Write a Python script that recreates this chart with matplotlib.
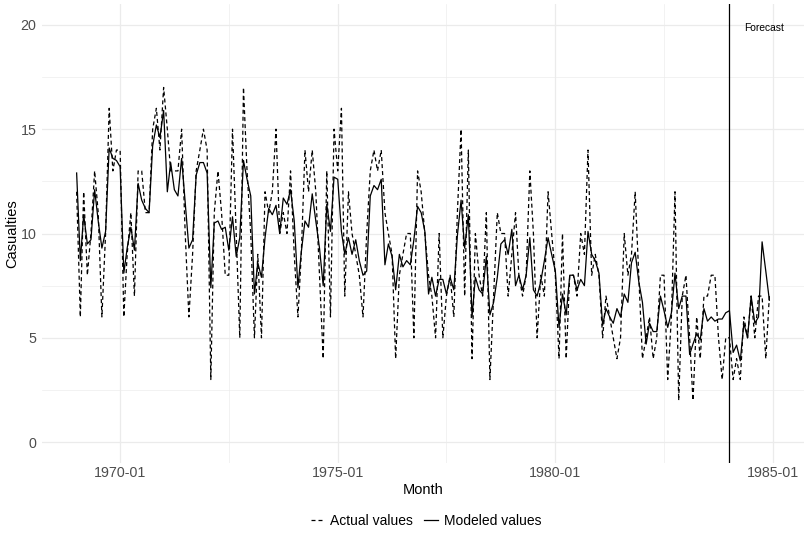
import matplotlib
matplotlib.use("Agg")
import matplotlib.pyplot as plt
import matplotlib.dates as mdates
import pandas as pd

# monthly series, Jan 1969 - Dec 1984
months = pd.date_range("1969-01-01", periods=192, freq="MS")

actual = [
    12, 6, 12, 8, 10, 13, 11, 6, 10, 16, 13, 14,
    14, 6, 9, 11, 7, 13, 13, 11, 11, 15, 16, 14,
    17, 15, 13, 13, 13, 15, 10, 6, 9, 13, 14, 15,
    14, 3, 11, 13, 11, 8, 8, 15, 10, 5, 17, 13,
    10, 5, 9, 5, 12, 11, 12, 15, 10, 11, 10, 13,
    9, 6, 9, 14, 12, 14, 12, 8, 4, 13, 6, 15,
    13, 16, 7, 12, 10, 9, 8, 6, 10, 13, 14, 13,
    14, 11, 10, 9, 4, 8, 9, 10, 10, 5, 13, 12,
    10, 8, 7, 5, 10, 5, 7, 8, 6, 11, 15, 7,
    14, 4, 10, 8, 7, 11, 3, 7, 11, 10, 10, 7,
    9, 11, 8, 7, 8, 13, 10, 5, 8, 7, 12, 10,
    8, 4, 10, 4, 8, 8, 7, 10, 9, 14, 8, 9,
    8, 5, 7, 6, 5, 4, 5, 10, 8, 9, 12, 8,
    4, 5, 6, 4, 5, 8, 8, 3, 6, 12, 2, 7,
    8, 5, 2, 6, 4, 7, 7, 8, 8, 5, 3, 5,
    5, 3, 4, 3, 6, 5, 7, 5, 7, 7, 4, 7,
]

modeled = [
    12.9, 8.7, 10.9, 9.5, 9.7, 12.1, 10.6, 9.3, 10.1, 14.1, 13.6, 13.5,
    13.2, 8.1, 9.3, 10.3, 9.2, 12.4, 11.6, 11.2, 11.0, 14.2, 15.2, 14.6,
    15.9, 12.0, 13.4, 12.1, 11.8, 13.6, 11.5, 9.3, 9.7, 12.8, 13.4, 13.4,
    12.9, 7.4, 10.5, 10.6, 10.2, 10.3, 9.2, 10.8, 8.9, 9.8, 13.5, 12.6,
    11.8, 7.1, 8.6, 7.9, 9.8, 11.2, 10.9, 11.35, 10.0, 11.7, 11.4, 12.1,
    10.6, 7.4, 9.1, 10.6, 10.3, 11.9, 10.6, 9.3, 7.5, 11.4, 10.1, 12.7,
    12.6, 10.1, 9.0, 9.8, 9.0, 9.7, 8.7, 8.0, 8.2, 11.8, 12.3, 12.1,
    12.6, 8.5, 9.5, 8.9, 7.3, 9.0, 8.4, 8.7, 8.5, 9.7, 11.3, 11.0,
    10.1, 7.1, 7.9, 7.0, 7.8, 7.8, 7.1, 7.9, 7.3, 9.9, 11.6, 9.3,
    10.9, 6.0, 7.9, 7.3, 7.1, 8.9, 6.1, 6.7, 7.9, 9.5, 9.7, 9.0,
    10.2, 7.5, 8.0, 7.3, 8.0, 9.8, 7.3, 7.0, 7.7, 8.7, 9.8, 9.0,
    8.2, 5.5, 7.1, 6.1, 8.0, 8.0, 7.3, 7.8, 7.5, 10.1, 9.0, 8.7,
    8.1, 5.6, 6.4, 6.0, 5.7, 6.4, 6.0, 7.1, 6.7, 8.6, 9.1, 7.7,
    6.7, 4.7, 5.7, 5.3, 5.3, 7.0, 6.3, 5.5, 6.2, 8.1, 6.4, 7.0,
    7.0, 4.2, 4.7, 5.2, 4.9, 6.4, 5.8, 6.0, 5.8, 5.9, 5.9, 6.2,
    6.3, 4.3, 4.65, 3.9, 5.7, 5.0, 7.0, 5.7, 6.0, 9.6, 8.2, 6.8,
]

forecast_start = pd.Timestamp("1984-01-01")
forecast_label_at = pd.Timestamp("1984-10-20")
x_major = pd.to_datetime(["1970-01-01", "1975-01-01", "1980-01-01", "1985-01-01"])
x_minor = pd.to_datetime(["1972-07-01", "1977-07-01", "1982-07-01"])
y_major = [0, 5, 10, 15, 20]
y_minor = [2.5, 7.5, 12.5, 17.5]

plt.rcParams['font.family'] = ['Liberation Sans', 'DejaVu Sans']

fig = plt.figure(figsize=(8.08, 5.39), dpi=100)
ax = fig.add_axes([42 / 808, 76 / 539, 762 / 808, 459 / 539])

grid_col = '#EBEBEB'
for yv in y_minor:
    ax.axhline(yv, color=grid_col, lw=0.45, zorder=0)
for yv in y_major:
    ax.axhline(yv, color=grid_col, lw=0.9, zorder=0)
for xv in x_minor:
    ax.axvline(xv, color=grid_col, lw=0.45, zorder=0)
for xv in x_major:
    ax.axvline(xv, color=grid_col, lw=0.9, zorder=0)

ax.plot(months, actual, color='black', lw=0.9, linestyle=(0, (3.2, 2.4)),
        label='Actual values')
ax.plot(months, modeled, color='black', lw=0.9, label='Modeled values')
ax.axvline(forecast_start, color='black', lw=0.9)
ax.text(forecast_label_at, 19.85, 'Forecast', fontsize=7.4, ha='center', va='center')

x0 = mdates.date2num(months[0])
x1 = mdates.date2num(months[-1])
pad = (x1 - x0) * 0.05
ax.set_xlim(x0 - pad, x1 + pad)
ax.set_ylim(-1, 21)

ax.set_xticks(x_major)
ax.xaxis.set_major_formatter(mdates.DateFormatter('%Y-%m'))
ax.set_yticks(y_major)
ax.tick_params(length=0, labelsize=10.3, labelcolor='#4D4D4D', pad=4)
ax.tick_params(axis='x', pad=2.5)
for s in ax.spines.values():
    s.set_visible(False)

ax.set_xlabel('Month', fontsize=10.5, labelpad=1.5)
ax.set_ylabel('Casualties', fontsize=10.5, va='center')
ax.yaxis.set_label_coords(-30 / 762, 0.5)

fig.legend(loc='center', bbox_to_anchor=(0.527, 0.034), ncol=2, frameon=False,
           fontsize=10, handlelength=1.0, handletextpad=0.4, columnspacing=0.8)

fig.savefig('out.png', dpi=100)
